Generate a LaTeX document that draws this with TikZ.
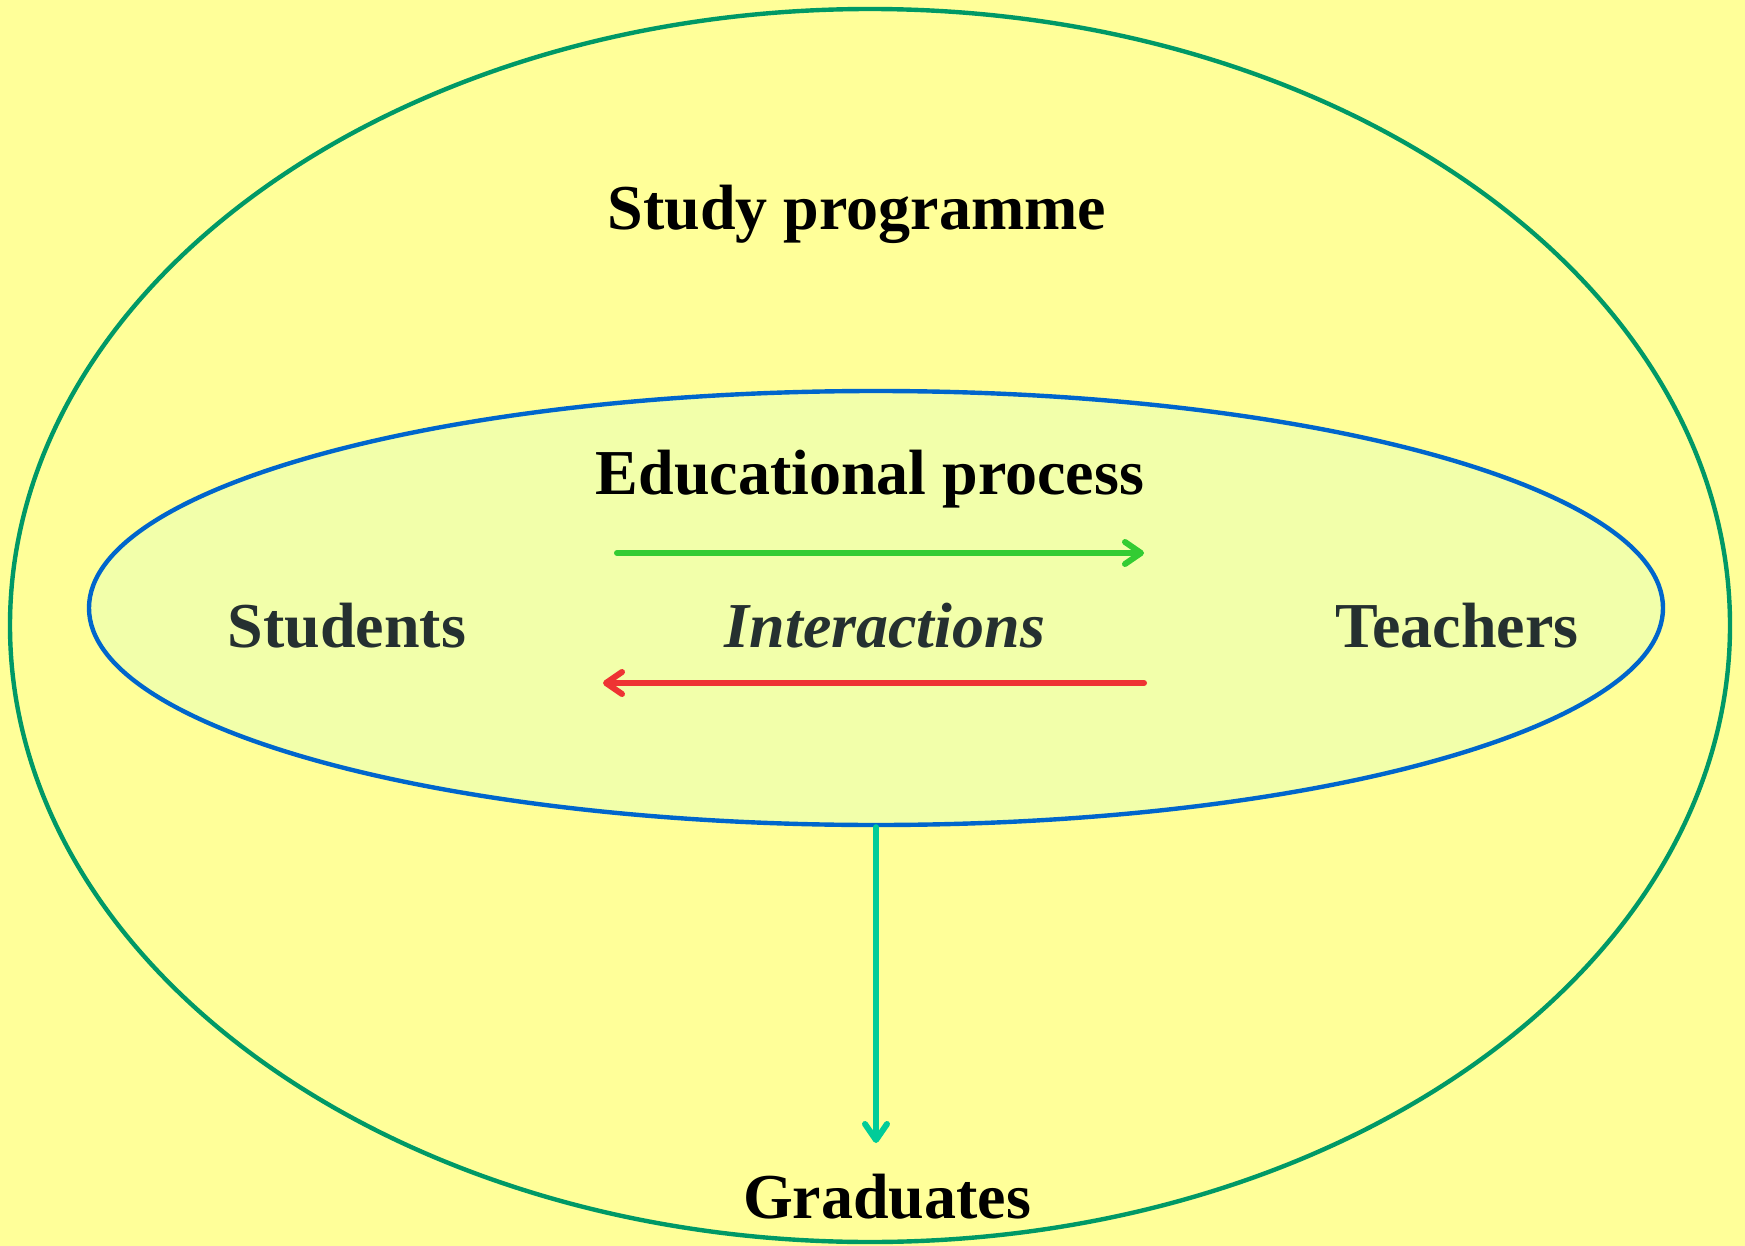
\documentclass[tikz,border=0pt]{standalone}
\usepackage{fontspec}
\setmainfont{Liberation Serif}
\usetikzlibrary{arrows.meta}
\usetikzlibrary{positioning}
\usetikzlibrary{shapes.geometric}
\definecolor{bgyellow}{HTML}{FFFF99}
\definecolor{procfill}{HTML}{F2FFAA}
\definecolor{progline}{HTML}{009966}
\definecolor{procline}{HTML}{0066CC}
\definecolor{fwdgreen}{HTML}{33CC33}
\definecolor{backred}{HTML}{EE3333}
\definecolor{outteal}{HTML}{00CC99}
\definecolor{darktext}{HTML}{253030}
\tikzset{
    region/.style = {shape=ellipse,inner sep=0,line width=2.2pt},
    title/.style = {font=\fontsize{32}{38}\selectfont\bfseries,anchor=base,inner sep=0},
    actor/.style = {title,text=darktext},
    flow/.style = {line width=3pt,line cap=round,-{Straight Barb[length=8pt,width=11pt,round]}}
}

\begin{document}
\begin{tikzpicture}[x=0.5pt,y=-0.5pt]
        % Canvas
        \fill[bgyellow] (0,0) rectangle (1745,1246);
        \useasboundingbox (0,0) rectangle (1745,1246);
        % Regions
        \node[region,draw=progline,minimum width=860pt,minimum height=616.5pt] (prog) at (870,625.5) {};
        \node[region,draw=procline,fill=procfill,minimum width=787pt,minimum height=217pt] (proc) at (876,608) {};
        % Labels
        \node[title] (progname) at (857,230) {Study programme};
        \node[title] (procname) at (870,494) {Educational process};
        \node[actor] (stud) at (347,647) {Students};
        \node[actor] (teach) at (1457,647) {Teachers};
        \node[actor,font=\fontsize{32}{38}\selectfont\bfseries\itshape] (inter) at (885,647) {Interactions};
        \node[title] (grad) at (887,1218) {Graduates};
        % Arrow ends
        \path (617,553) coordinate (fwdstart)
            to (1144,553) coordinate (fwdend)
            to (1144,683) coordinate (backstart)
            to (603,683) coordinate (backend)
        ;
        \coordinate (gradin) at (proc.south |- 0,1143);
        % Interactions
        \draw[flow,fwdgreen] (fwdstart) -- (fwdend);
        \draw[flow,backred] (backstart) -- (backend);
        % Output
        \draw[flow,outteal] (proc.south) -- (gradin);
    \end{tikzpicture}
\end{document}
